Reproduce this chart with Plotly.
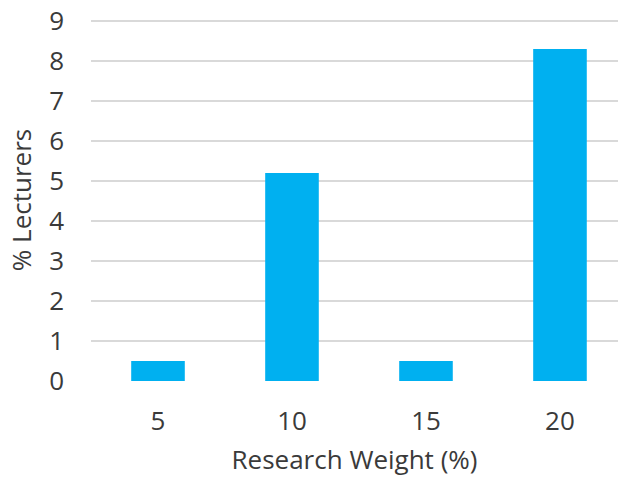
import plotly.graph_objects as go

categories = ["5", "10", "15", "20"]
values = [0.5, 5.2, 0.5, 8.3]
y_ticks = [0, 1, 2, 3, 4, 5, 6, 7, 8, 9]

fig = go.Figure()
fig.add_trace(go.Bar(
    x=list(range(len(categories))), y=values,
    marker=dict(color="#00B0F0", line=dict(width=0)),
    width=0.4,
))

font_family = "Open Sans, DejaVu Sans, sans-serif"
txt = "#3a3a3a"
fig.update_layout(
    width=618, height=478,
    margin=dict(l=91, r=0, t=19, b=97),
    paper_bgcolor="white", plot_bgcolor="white",
    showlegend=False,
    font=dict(family=font_family, size=26, color=txt),
    xaxis=dict(
        range=[-0.5, 3.433],
        tickmode="array", tickvals=list(range(len(categories))), ticktext=categories,
        showgrid=False, zeroline=False, showline=False,
        ticks="",
        automargin=False,
        ticklabelstandoff=22,
        ticklabeloverflow="allow",
        title=dict(text="Research Weight (%)", font=dict(size=26, color=txt), standoff=13),
        tickfont=dict(size=26, color=txt),
    ),
    yaxis=dict(
        range=[0, 9.05],
        tickmode="array", tickvals=y_ticks,
        showgrid=True, gridcolor="#d9d9d9", gridwidth=1.5,
        zeroline=False, showline=False,
        ticks="",
        automargin="left",
        ticklabelstandoff=26,
        ticklabeloverflow="allow",
        title=dict(text="% Lecturers", font=dict(size=26, color=txt), standoff=10),
        tickfont=dict(size=26, color=txt),
    ),
)

fig.write_html("out.html", config={"displayModeBar": False},
               post_script="document.body.style.margin='0';")
